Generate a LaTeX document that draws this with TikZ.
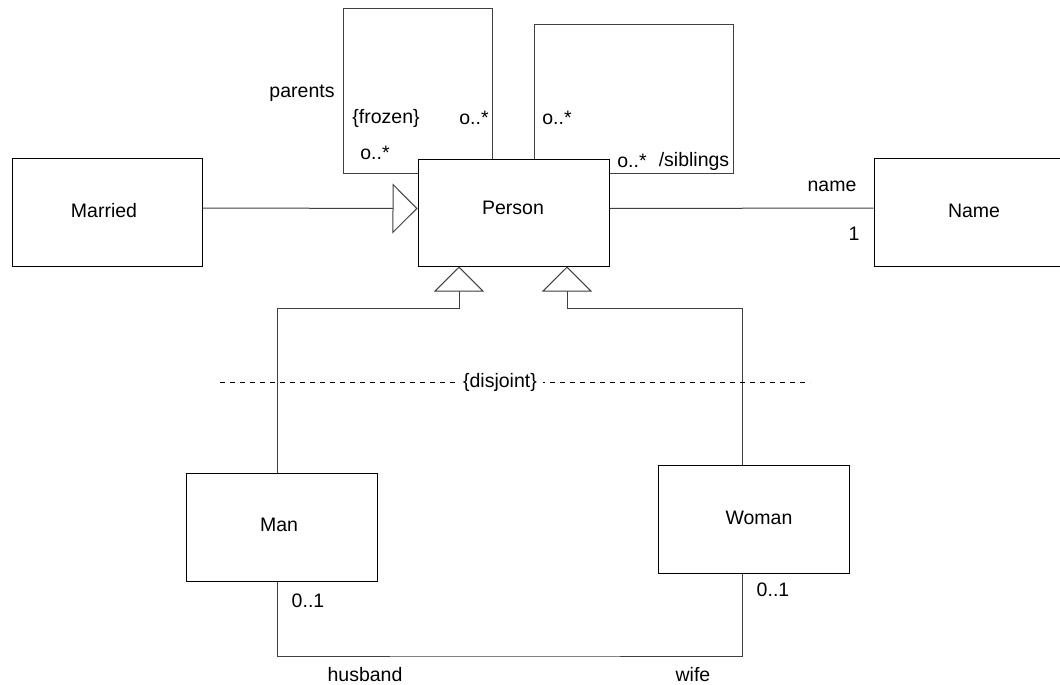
\documentclass[tikz,border=0pt]{standalone}
\usepackage{fontspec}
\setmainfont{Liberation Sans}
\usetikzlibrary{arrows.meta}
\begin{document}
\begin{tikzpicture}[x=1pt,y=-1pt,
  every node/.style={font=\fontsize{19.5}{22}\selectfont, inner sep=0pt},
  classbox/.style={draw=black, line width=1pt, fill=white, minimum width=191pt, minimum height=108pt},
  wire/.style={draw=black!75, line width=1pt},
  gen/.style={wire, -{Triangle[fill=white, length=25pt, width=50pt, line width=1pt]}},
  sepline/.style={draw=black, line width=0.8pt, dash pattern=on 5pt off 5pt},
  lbl/.style={anchor=center}]
\useasboundingbox (0,0) rectangle (1060,685);
\clip (0,0) rectangle (1060,685);

% classes
\node[classbox, minimum width=190pt] (married) at (107,212) {};
\node[lbl] at (104,211) {Married};
\node[classbox, minimum height=107pt] (person) at (513.5,212.5) {};
\node[lbl] at (513,208) {Person};
\node[classbox, minimum width=200pt] (name) at (974,212) {};
\node[lbl] at (974,211) {Name};
\node[classbox] (man) at (281.5,527) {};
\node[lbl] at (279,525) {Man};
\node[classbox] (woman) at (753.5,519) {};
\node[lbl] at (759,518) {Woman};

% anchor points for the routed connectors
\coordinate (pl) at (343,9);
\coordinate (pr) at (492,9);
\coordinate (sl) at (534,25);
\coordinate (sr) at (733,25);
\coordinate (gl) at (459,308);
\coordinate (gr) at (567,308);
\coordinate (hw) at (500,656);
\coordinate (dl) at (220,382);
\coordinate (dr) at (810,382);

% married is a kind of person
\draw[gen] ([yshift=4pt]married.east) -- ([yshift=4pt]person.west);
% person -- name association
\draw[wire] ([yshift=4pt]person.east) -- ([yshift=4pt]name.west);

% reflexive associations: parents and siblings
\draw[wire] ([yshift=-15pt]person.north west) -| (pl) -- (pr) -- (pr |- person.north);
\draw[wire] (sl |- person.north) -- (sl) -- (sr) |- ([yshift=-15pt]person.north east);

% generalisations of man and woman
\draw[gen] ([xshift=-4.5pt]man.north) |- (gl) -- (gl |- person.south);
\draw[gen] ([xshift=-11.5pt]woman.north) |- (gr) -- (gr |- person.south);

% husband / wife association
\draw[wire] ([xshift=-4.5pt]man.south) |- (hw) -| ([xshift=-11.5pt]woman.south);

% disjoint constraint
\draw[sepline] (dl) -- (dr);
\node[lbl, fill=white, inner xsep=6pt, inner ysep=2pt] (disj) at (500,382) {\{disjoint\}};

% role names and multiplicities
\node[lbl] (parents) at (302,93) {parents};
\node[lbl] (frozen) at (386,118) {\{frozen\}};
\node[lbl] (m1) at (474,118) {o..*};
\node[lbl] (m2) at (375,153) {o..*};
\node[lbl] (m3) at (557,118) {o..*};
\node[lbl] (m4) at (632,161) {o..*};
\node[lbl] (sib) at (694,161) {/siblings};
\node[lbl] (nm) at (832,186) {name};
\node[lbl] (one) at (854,234) {1};
\node[lbl] (mm) at (308,601) {0..1};
\node[lbl] (wm) at (773,590) {0..1};
\node[lbl] (hus) at (365,675) {husband};
\node[lbl] (wif) at (693,675) {wife};
\end{tikzpicture}
\end{document}
